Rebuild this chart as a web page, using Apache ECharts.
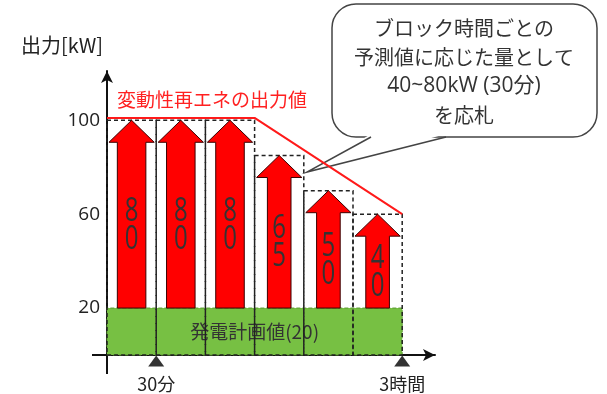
<!DOCTYPE html>
<html>
<head>
<meta charset="utf-8">
<script src="https://cdn.jsdelivr.net/npm/echarts@6/dist/echarts.min.js"></script>
<style>
html,body{margin:0;padding:0;background:#fff}
#main{width:607px;height:394px}
</style>
</head>
<body>
<div id="main"></div>
<script>
// ブロック開始時刻(分)と応札量[kW]
var blockStart = [0, 30, 60, 90, 120, 150]
var blockLen = 30
var bidValues = [80, 80, 80, 65, 50, 40]
var planValue = 20
// 変動性再エネの出力値
var reTime = [0, 90, 180]
var reOutput = [101, 101, 60]
// 軸ラベル
var yTicks = [20, 60, 100]
var xTicks = {30: '30分', 180: '3時間'}
var markTimes = [30, 180]

var jp = '"Noto Sans CJK JP", sans-serif'
var lat = '"Open Sans", "Noto Sans CJK JP", sans-serif'

function renderBlock(params, api){
  var t = api.value(0), v = api.value(1)
  var top = planValue + v
  var p0 = api.coord([t, 0])
  var p1 = api.coord([t + blockLen, top])
  var base = api.coord([t, planValue])[1]
  var x0 = p0[0], x1 = p1[0], w = x1 - x0, cx = (x0 + x1) / 2
  var tipY = p1[1]
  var headH = 22, headW = w * 0.92, shaftW = w * (v >= 80 ? 0.58 : 0.48)
  var neckY = tipY + headH
  var pts = [
    [cx, tipY], [cx + headW / 2, neckY], [cx + shaftW / 2, neckY], [cx + shaftW / 2, base],
    [cx - shaftW / 2, base], [cx - shaftW / 2, neckY], [cx - headW / 2, neckY]
  ]
  return {
    type: 'group',
    children: [
      {type: 'rect', shape: {x: x0, y: tipY, width: w, height: p0[1] - tipY},
        style: {fill: 'none', stroke: '#222', lineWidth: 1.5, lineDash: [4, 3]}},
      {type: 'polygon', shape: {points: pts},
        style: {fill: '#ff0000', stroke: '#3a0000', lineWidth: 1}},
      // 縦長の数字
      {type: 'text', x: cx, y: (neckY + base) / 2, scaleY: 1.4,
        style: {
          text: String(v).split('').join('\n'), x: 0, y: 0,
          align: 'center', verticalAlign: 'middle', fontSize: 24, lineHeight: 20,
          fill: '#333', fontFamily: lat
        }}
    ]
  }
}

var chart = echarts.init(document.getElementById('main'))
chart.setOption({
  animation: false,
  grid: {left: 107, right: 172, top: 71, bottom: 39},
  xAxis: {
    type: 'value', min: 0, max: 200, interval: 30,
    splitLine: {show: false}, axisTick: {show: false},
    axisLine: {lineStyle: {color: '#111', width: 2}, symbol: ['none', 'arrow'], symbolSize: [9, 12]},
    axisLabel: {formatter: function(v){ return xTicks[v] || '' }, margin: 20, fontSize: 18, color: '#222', fontFamily: jp}
  },
  yAxis: {
    type: 'value', min: 0, max: 121, interval: 20,
    name: '出力[kW]', nameLocation: 'end', nameGap: 16,
    nameTextStyle: {fontSize: 20, color: '#222', fontFamily: jp, align: 'right', padding: [0, 4, 0, 0]},
    splitLine: {show: false}, axisTick: {show: false},
    axisLine: {lineStyle: {color: '#111', width: 2}, symbol: ['none', 'arrow'], symbolSize: [9, 12]},
    axisLabel: {formatter: function(v){ return yTicks.indexOf(v) >= 0 ? String(v) : '' }, margin: 7, fontSize: 19, color: '#222', fontFamily: lat}
  },
  series: [
    {
      type: 'custom',
      renderItem: renderBlock,
      data: blockStart.map(function(t, i){ return [t, bidValues[i]] }),
      z: 3,
      markArea: {
        silent: true,
        itemStyle: {color: '#77c043', borderColor: '#5a9a30', borderWidth: 1, borderType: 'dashed'},
        label: {show: true, position: 'inside', formatter: '発電計画値(' + planValue + ')', fontSize: 19, color: '#333', fontFamily: jp},
        data: [[{xAxis: 0, yAxis: 0}, {xAxis: blockStart[blockStart.length - 1] + blockLen, yAxis: planValue}]]
      }
    },
    {
      type: 'line',
      data: reTime.map(function(t, i){ return [t, reOutput[i]] }),
      symbol: 'none',
      lineStyle: {color: '#ff1a1a', width: 2},
      z: 5
    },
    {
      type: 'scatter',
      data: markTimes.map(function(t){ return [t, 0] }),
      symbol: 'triangle', symbolSize: [16, 11], symbolOffset: [0, 6],
      itemStyle: {color: '#000'},
      clip: false,
      z: 6
    }
  ],
  graphic: [
    // 軸の交差部のはみ出し
    {type: 'line', shape: {x1: 107, y1: 355, x2: 107, y2: 374}, style: {stroke: '#111', lineWidth: 2}},
    {type: 'line', shape: {x1: 92, y1: 355, x2: 107, y2: 355}, style: {stroke: '#111', lineWidth: 2}},
    {type: 'text', left: 117, top: 90,
      style: {text: '変動性再エネの出力値', fontSize: 19, fill: '#ff2020', fontFamily: jp}},
    {type: 'group', z: 10, children: [
      {type: 'rect', shape: {x: 332, y: 4, width: 265, height: 133, r: 24},
        style: {fill: '#fff', stroke: '#444', lineWidth: 1.5}},
      {type: 'polygon', shape: {points: [[371, 134], [307, 172], [446, 134]]},
        style: {fill: '#fff', stroke: 'none'}},
      {type: 'polyline', shape: {points: [[371, 137], [307, 172], [446, 137]]},
        style: {fill: 'none', stroke: '#444', lineWidth: 1.5}},
      {type: 'text', style: {
        text: 'ブロック時間ごとの\n予測値に応じた量として\n{l|40~80kW (30分)}\nを応札',
        x: 464, y: 72, align: 'center', verticalAlign: 'middle',
        fontSize: 20, lineHeight: 29, fill: '#333', fontFamily: jp,
        rich: {l: {fontSize: 21, lineHeight: 29, fill: '#333', fontFamily: lat}}
      }}
    ]}
  ]
})
</script>
</body>
</html>
